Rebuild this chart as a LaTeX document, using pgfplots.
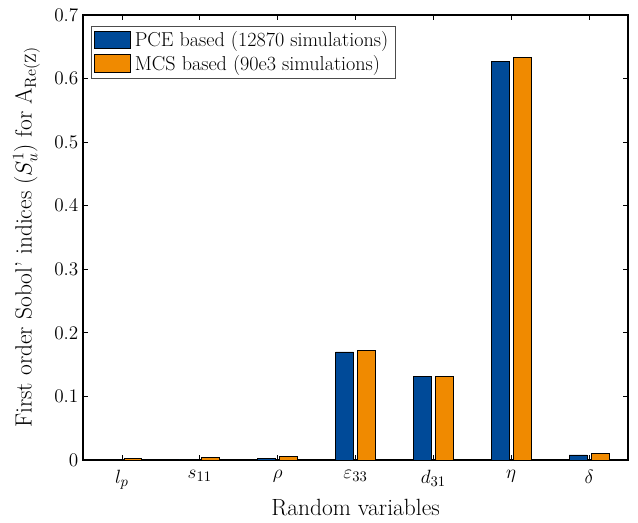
\documentclass[border=0pt]{standalone}
\usepackage{pgfplots}
\pgfplotsset{compat=1.18}

\definecolor{pceblue}{RGB}{0,74,152}
\definecolor{mcsorange}{RGB}{240,138,0}

\begin{document}
\begin{tikzpicture}
\begin{axis}[
  name=ax,
  scale only axis,
  width=408.75pt, height=333.75pt,
  xmin=0.5, xmax=7.5,
  ymin=0, ymax=0.7,
  xtick={1,...,7},
  xticklabels={$l_p$,$s_{11}$,$\rho$,$\varepsilon_{33}$,$d_{31}$,$\eta$,$\delta$},
  ytick={0,0.1,...,0.7},
  yticklabel style={/pgf/number format/fixed},
  xticklabel style={yshift=-4pt},
  tick align=inside,
  tick pos=both,
  major tick length=4pt,
  axis line style={line width=0.8pt},
  every tick/.style={black, line width=0.6pt},
  ticklabel style={font=\fontsize{15.8}{18}\selectfont},
  label style={font=\fontsize{17.6}{20}\selectfont},
  xlabel={Random variables},
  ylabel={First order Sobol' indices ($S_u^1$) for A$_{\mathrm{Re(Z)}}$},
  xlabel style={yshift=-1pt},
  ylabel style={yshift=4pt},
  legend style={at={(0.015,0.975)}, anchor=north west, draw=black!70,
    line width=0.5pt, font=\fontsize{15.1}{17}\selectfont,
    inner xsep=2pt, inner ysep=2pt, row sep=1pt, cells={anchor=west},
    nodes={inner xsep=3pt}},
  legend image code/.code={\draw[#1] (0pt,-6pt) rectangle (27pt,7pt);},
  legend cell align=left,
]
\addplot[ybar, bar width=0.23, bar shift=-0.14, fill=pceblue, draw=black, line width=0.5pt]
  coordinates {(1,0.0005) (2,0.001) (3,0.003) (4,0.170) (5,0.132) (6,0.627) (7,0.008)};
\addlegendentry{PCE based (12870 simulations)}
\addplot[ybar, bar width=0.23, bar shift=0.14, fill=mcsorange, draw=black, line width=0.5pt]
  coordinates {(1,0.002) (2,0.004) (3,0.006) (4,0.172) (5,0.131) (6,0.633) (7,0.011)};
\addlegendentry{MCS based (90e3 simulations)}
\end{axis}
\pgfresetboundingbox
\useasboundingbox ([xshift=-62.25pt,yshift=-47.25pt]ax.south west)
  rectangle ([xshift=7.5pt,yshift=11.25pt]ax.north east);
\end{tikzpicture}
\end{document}
